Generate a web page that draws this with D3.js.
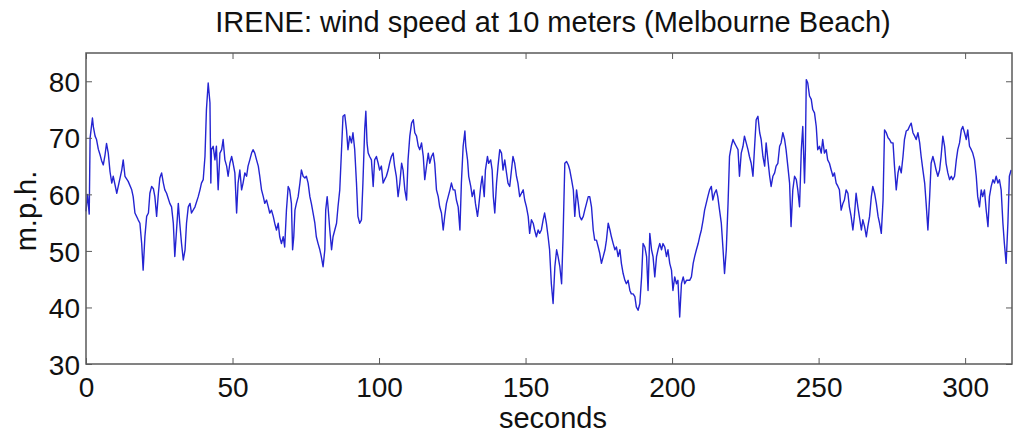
<!DOCTYPE html>
<html>
<head>
<meta charset="utf-8">
<script src="https://cdn.jsdelivr.net/npm/d3@7/dist/d3.min.js"></script>
<style>
  html, body { margin: 0; padding: 0; background: #fff; }
  svg { display: block; }
  text { font-family: "Liberation Sans", Arial, Helvetica, sans-serif; fill: #111; }
</style>
</head>
<body>
<svg id="chart" width="1020" height="435"></svg>
<script>
const title = "IRENE: wind speed at 10 meters (Melbourne Beach)";
const xLabel = "seconds";
const yLabel = "m.p.h.";
const xTicks = [0, 50, 100, 150, 200, 250, 300];
const yTicks = [30, 40, 50, 60, 70, 80];

const times = [
  0,0.5,1.1,1.4,2.2,2.5,3.1,3.6,4.2,4.8,5.3,5.9,6.5,7.0,7.6,8.2,8.8,9.3,10.5,11.0,
  12.2,12.7,13.3,14.4,15.6,16.1,16.7,17.8,18.4,19.0,19.5,20.1,20.7,21.3,21.8,22.4,23.0,23.5,24.1,24.7,
  25.2,25.8,26.4,26.9,27.5,28.6,29.2,29.8,30.3,30.9,31.5,32.0,32.6,33.2,33.8,34.3,34.9,35.5,36.0,37.2,
  38.3,38.9,39.4,40.0,40.6,41.1,41.7,42.3,42.6,42.8,43.4,44.0,44.5,45.1,45.7,46.3,46.8,47.4,48.0,48.5,
  49.1,49.7,50.2,50.8,51.4,51.9,
  52.5,53.1,53.6,54.2,54.8,55.3,55.9,56.5,57.0,57.6,58.2,58.8,59.3,59.9,60.5,61.0,61.6,62.2,62.7,63.3,
  63.9,64.4,65.0,65.6,66.1,66.7,67.3,67.8,68.4,69.0,69.5,70.1,70.5,70.9,71.3,71.8,72.4,73.0,73.5,74.1,
  74.7,75.2,75.8,76.4,76.9,77.5,78.1,78.6,79.2,79.8,80.3,80.9,81.5,81.8,82.3,82.6,83.2,83.8,84.3,84.9,
  85.5,86.0,86.6,87.2,87.7,88.3,88.9,89.4,90.0,90.6,91.1,91.7,92.3,92.8,93.4,94.0,94.5,95.1,95.5,95.9,
  96.3,96.8,97.4,98.0,98.5,99.1,99.7,100.2,100.8,101.4,101.9,102.5,103.1,103.6,104.2,104.8,105.3,105.9,
  106.5,107.1,107.7,108.2,108.8,109.4,109.9,110.5,111.1,111.7,112.2,112.8,113.4,113.9,114.5,115.1,115.6,116.2,116.8,117.3,
  117.9,118.5,119.0,119.6,120.2,120.7,121.3,121.9,122.4,123.0,123.6,124.2,124.7,125.3,125.9,126.4,127.0,127.6,128.1,128.7,
  129.3,129.6,130.2,130.6,131.3,131.8,132.4,132.9,133.6,134.0,134.7,135.2,135.9,136.3,137.0,137.4,138.1,138.6,139.0,139.5,
  140.1,140.6,141.2,141.8,142.3,142.9,143.5,144.0,144.6,145.2,145.7,146.3,146.9,147.4,148.0,148.6,149.2,149.7,150.3,150.9,
  151.4,152.0,152.6,153.1,153.7,154.3,154.8,155.4,156.0,156.5,157.1,157.7,158.2,158.8,159.4,
  160.0,160.6,161.1,161.7,162.3,162.8,163.4,164.0,164.6,165.1,165.7,166.3,166.8,167.4,168.0,168.5,169.1,169.7,170.2,170.8,
  171.4,171.9,172.5,173.1,173.6,174.2,174.8,175.3,175.9,176.5,177.1,177.6,178.2,178.8,179.3,179.9,180.5,181.0,181.6,182.2,
  182.7,183.3,183.9,184.4,185.0,185.6,186.1,186.7,187.3,187.8,188.4,189.0,189.6,190.1,190.7,191.3,191.8,192.4,193.0,193.5,
  194.1,194.7,195.2,195.8,196.4,196.9,197.5,198.1,198.6,199.2,199.8,200.3,200.9,201.5,202.0,202.6,203.2,203.8,204.3,204.9,
  205.5,206.0,206.6,207.2,207.7,208.3,208.9,209.4,210.0,210.6,211.1,
  212.2,212.8,213.4,213.9,214.5,215.1,215.6,216.2,216.8,217.4,217.9,218.5,219.1,219.6,220.2,220.8,221.3,221.9,222.5,223.0,
  223.6,224.2,224.7,225.3,225.9,226.4,227.0,227.6,228.1,228.7,229.3,229.9,230.4,231.0,231.6,232.1,232.7,233.3,233.8,234.4,
  235.0,235.5,236.1,236.7,237.2,237.8,238.4,238.9,239.5,240.1,240.6,241.2,241.8,242.4,242.9,243.5,244.1,244.6,245.2,245.5,
  245.8,246.3,246.9,247.5,248.0,248.6,249.2,249.7,250.3,250.9,251.4,252.0,252.6,253.1,253.7,254.3,254.9,255.4,256.0,256.6,
  257.1,257.7,258.3,258.8,259.4,260.0,260.5,261.1,261.7,262.2,262.8,263.4,263.9,
  264.6,265.1,265.7,266.3,266.8,267.4,268.0,268.5,269.1,269.7,270.3,270.8,271.4,272.0,272.5,273.1,273.7,274.2,274.8,275.4,
  275.9,276.5,277.1,277.6,278.2,278.8,279.3,279.9,280.5,281.0,281.6,282.2,282.8,283.3,283.9,284.5,285.0,285.6,286.2,286.7,
  287.3,287.9,288.4,289.0,289.6,290.1,290.7,291.3,291.8,292.4,293.0,293.5,294.1,294.7,295.3,295.8,296.4,297.0,297.5,298.1,
  298.7,299.2,299.8,300.4,300.9,301.5,302.1,302.6,303.2,303.8,304.3,304.9,305.5,306.0,306.6,307.2,307.8,308.3,308.9,309.5,
  310.0,310.6,311.2,311.7,312.3,312.9,313.4,314.0,314.6,315.1,315.7
];

const speeds = [
  57,60,56.5,70,73.5,72,70.3,69.7,68,67,66,65.2,67,69,67.3,64,62,63.2,60.2,61.4,
  64.3,66.1,63.2,62.3,60.8,59.6,56.7,55.5,54.9,51.3,46.6,52.5,56.1,56.7,60.2,61.4,61,59.6,56.1,60.2,
  62.9,63.8,62,60.8,60.2,58.4,57.8,54.9,49,53.7,58.4,54.9,51.3,48.4,50.2,54.9,57.8,58.4,56.7,57.8,
  59.6,60.8,62,62.6,66.7,75,79.7,76.2,62,67.9,68.5,66.1,68.5,60.8,67.3,67.9,69.7,66.1,65,63.2,
  65.5,66.7,65.5,63.8,56.7,62,
  64.3,60.8,62,63.8,63.2,65,66.1,67.3,67.9,67.3,66.1,65,63.2,60.8,59.6,58.4,59,57.8,56.7,57.2,
  56.1,54.9,53.7,54.9,52.5,51.3,52.5,50.7,57.2,61.4,60.8,58.4,50.2,52.5,57.2,58.4,59.6,62,64.3,63.2,
  62.9,63.2,62,59.6,58.4,56.7,54.9,52.5,51.3,50.2,49,47.2,50.2,57.2,59.6,57.8,53.7,50.2,52.5,53.7,
  54.9,57.8,60.8,67.9,73.8,74.1,71.4,67.9,70.3,69.1,70.9,67.9,62,56.1,54.9,55.5,62,71.4,74.7,69.1,
  67.3,66.7,66.1,61.4,66.1,66.7,65.5,64.3,65,62,62.6,63.2,64.3,65.5,66.7,67.3,65,63.2,
  59.6,62,65.5,64.3,60.8,59,66.1,70.3,72.6,73.2,70.9,70.3,68.5,67.9,69.1,66.7,62.6,65,67.3,65.5,
  66.7,67.3,65.5,60.8,59.6,57.8,56.7,53.7,56.1,58.4,59.6,60.8,62,60.8,60.8,59,57.8,53.7,62,68.5,
  71.2,68.5,66.1,63.2,61.4,59.6,60.8,58.4,56.1,57.8,61.4,63.2,59.6,64.3,66.7,65.5,66.1,64.3,59.6,56.7,
  62,65,67.9,67.3,64.3,66.1,63.8,62,61.4,64.3,66.7,65.5,63.2,62,59.6,60.2,60.8,59,57.8,56.1,
  53.1,55.5,54.9,53.7,52.5,53.7,53.1,53.7,55.5,56.7,54.9,52.5,50.2,44.2,40.7,
  47.2,50.2,49,47.2,44.2,52.5,65.5,65.8,65.2,64.3,62.6,60.8,56.1,60.8,58.4,56.1,55.5,56.1,57.2,58.4,
  59.6,59.6,57.8,53.7,51.9,51.9,50.7,49.6,47.8,49,50.2,51.9,54.9,53.7,52.5,51.3,50.2,50.7,49,50.2,
  47.8,46,44.8,44.2,44.8,43,42.4,42.4,41.9,40.1,39.5,40.7,45.4,51.3,50.7,49,43,53.1,50.2,49,
  45.4,49,50.2,51.3,50.2,51.3,50.7,49,50.2,47.8,46.6,43,45.4,44.2,44.8,38.3,44.2,45.4,44.2,44.8,
  44.8,44.8,45.4,47.8,49,50.2,51.3,52.5,53.7,55.5,57.2,
  59.6,60.8,61.4,59,60.2,60.8,59.6,57.2,54.9,50.2,46,50.2,58.4,66.7,68.5,69.7,69.1,68.5,67.9,63.2,
  67.3,68.5,70.3,69.1,67.9,66.7,65.5,63.2,67.9,73.2,73.8,70.9,69.7,66.7,65,69.1,66.1,63.2,61.4,63.2,
  63.8,65,65.5,68.5,69.1,70.9,69.7,67.9,65,62,54.3,60.8,63.2,62.6,60.8,57.8,67.9,72,62,67.9,
  80.3,79.7,77.4,76.8,75,74.4,72,67.9,68.5,67.3,69.7,67.3,67.9,66.1,65.5,64.3,63.2,63.8,62,61.4,
  60.8,57.2,58.4,59,60.8,60.2,57.8,56.1,53.7,56.1,60.2,57.8,56.1,
  53.7,55.5,54.3,52.5,54.3,56.1,59.6,61.4,60.2,58.4,56.1,54.9,53.1,59,71.4,70.9,70,69.7,69.1,69.1,
  65,60.8,63.8,65,63.8,66.7,69.7,71.2,71.4,72,72.6,70.9,70.3,69.7,70.9,69.1,66.7,64.3,62,58.4,
  53.7,59.6,65.5,66.7,65.5,64.3,63.2,64.3,66.7,70.3,68.5,65.5,63.8,62.6,63.2,62.6,63.2,66.1,67.9,69.1,
  71.4,72,70.9,69.7,71.4,68.5,67.9,67.3,66.1,63.2,59.6,57.8,60.8,59.6,60.8,57.2,54.3,59.6,61.4,62.6,
  62,63.2,62,62.6,60.8,54.9,51.3,47.8,54.9,63.2,64.3
];

const W = 1020, H = 435;
const margin = { left: 86, right: 1012, top: 53, bottom: 364 };

const svg = d3.select("#chart");
svg.append("rect").attr("width", W).attr("height", H).attr("fill", "#fff");

const x = d3.scaleLinear().domain([0, 316]).range([margin.left, margin.right]);
const y = d3.scaleLinear().domain([30, 85]).range([margin.bottom, margin.top]);

const data = times.map((t, i) => ({ t, v: speeds[i] }));

// data line
const line = d3.line().x(d => x(d.t)).y(d => y(d.v));
svg.append("path")
  .datum(data)
  .attr("fill", "none")
  .attr("stroke", "#2424d2")
  .attr("stroke-width", 1.4)
  .attr("stroke-linejoin", "round")
  .attr("d", line);

const axisColor = "#5a5a5a";
const fs = 28;

// bottom axis (ticks inside)
const gx = svg.append("g").attr("transform", `translate(0,${margin.bottom})`)
  .call(d3.axisBottom(x).tickValues(xTicks).tickSizeInner(-6).tickSizeOuter(0).tickPadding(13).tickFormat(d3.format("d")));
// top axis ticks only
const gxt = svg.append("g").attr("transform", `translate(0,${margin.top})`)
  .call(d3.axisTop(x).tickValues(xTicks).tickSizeInner(-6).tickSizeOuter(0).tickFormat(""));
// left axis
const gy = svg.append("g").attr("transform", `translate(${margin.left},0)`)
  .call(d3.axisLeft(y).tickValues(yTicks).tickSizeInner(-6).tickSizeOuter(0).tickPadding(6).tickFormat(d3.format("d")));
// right axis ticks only
const gyr = svg.append("g").attr("transform", `translate(${margin.right},0)`)
  .call(d3.axisRight(y).tickValues(yTicks).tickSizeInner(-6).tickSizeOuter(0).tickFormat(""));

[gx, gxt, gy, gyr].forEach(g => {
  g.select(".domain").remove();
  g.selectAll(".tick line").attr("stroke", axisColor).attr("stroke-width", 1);
  g.selectAll("text").style("font-size", fs + "px").attr("fill", "#111")
    .style("font-family", '"Liberation Sans", Arial, sans-serif');
});
gx.selectAll("text").attr("dy", "0.72em");
gy.selectAll("text").attr("dy", "0.36em");

// box
svg.append("rect")
  .attr("x", margin.left).attr("y", margin.top)
  .attr("width", margin.right - margin.left).attr("height", margin.bottom - margin.top)
  .attr("fill", "none").attr("stroke", axisColor).attr("stroke-width", 1.5);

// title
svg.append("text")
  .attr("x", 553).attr("y", 32)
  .attr("text-anchor", "middle")
  .style("font-size", "29px")
  .text(title);

// x label
svg.append("text")
  .attr("x", 553).attr("y", 428)
  .attr("text-anchor", "middle")
  .style("font-size", "29px")
  .text(xLabel);

// y label
svg.append("text")
  .attr("transform", `translate(36,211) rotate(-90)`)
  .attr("text-anchor", "middle")
  .style("font-size", "29px")
  .text(yLabel);
</script>
</body>
</html>
